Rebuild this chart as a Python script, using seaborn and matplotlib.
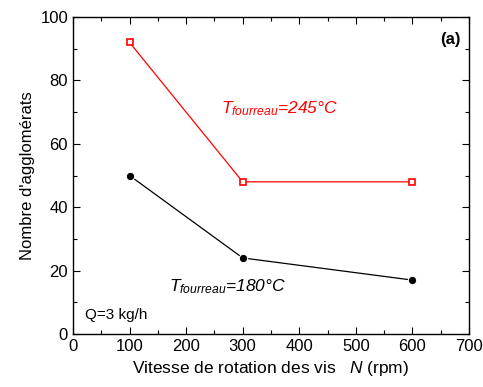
import pandas as pd
import numpy as np
import seaborn as sns
import matplotlib.pyplot as plt
from matplotlib.ticker import MultipleLocator

# data
vitesse = [100, 300, 600]
agglo_245 = [92, 48, 48]
agglo_180 = [50, 24, 17]

df = pd.DataFrame({
    'N': vitesse * 2,
    'agglo': agglo_245 + agglo_180,
    'T': ['245'] * 3 + ['180'] * 3,
})

sns.set_style('ticks')
plt.rcParams['font.family'] = ['Liberation Sans', 'DejaVu Sans']
plt.rcParams['mathtext.fontset'] = 'custom'
plt.rcParams['mathtext.it'] = 'Liberation Sans:italic'
plt.rcParams['mathtext.rm'] = 'Liberation Sans'
plt.rcParams['text.color'] = 'black'
plt.rcParams['axes.labelcolor'] = 'black'
plt.rcParams['xtick.color'] = 'black'
plt.rcParams['ytick.color'] = 'black'

fig = plt.figure(figsize=(4.83, 3.87), dpi=100)
ax = fig.add_axes([0.151, 0.137, 0.820, 0.819])

sns.lineplot(data=df[df['T'] == '245'], x='N', y='agglo', ax=ax, color='red',
             marker='s', markersize=5, markerfacecolor='white', markeredgecolor='red',
             markeredgewidth=1.2, linewidth=0.9)
sns.lineplot(data=df[df['T'] == '180'], x='N', y='agglo', ax=ax, color='black',
             marker='o', markersize=6, linewidth=0.9)

ax.set_xlim(0, 700)
ax.set_ylim(0, 100)
ax.xaxis.set_major_locator(MultipleLocator(100))
ax.xaxis.set_minor_locator(MultipleLocator(50))
ax.yaxis.set_major_locator(MultipleLocator(20))
ax.yaxis.set_minor_locator(MultipleLocator(10))
ax.tick_params(which='both', direction='in', top=True, right=True, labelsize=12, color='black')
ax.tick_params(which='major', length=5, width=0.8)
ax.tick_params(which='minor', length=3, width=0.8)
for sp in ax.spines.values():
    sp.set_linewidth(1.0)
    sp.set_color('black')

ax.set_xlabel(r'Vitesse de rotation des vis   $N$ (rpm)', fontsize=12.5)
ax.set_ylabel("Nombre d'agglomérats", fontsize=12)

ax.text(262, 71, r'$T_{fourreau}$=245°C', color='red', fontsize=12.5, style='italic',
        ha='left', va='center')
ax.text(170, 15, r'$T_{fourreau}$=180°C', color='black', fontsize=12.5, style='italic',
        ha='left', va='center')
ax.text(22, 6, 'Q=3 kg/h', fontsize=11, ha='left', va='center')
ax.text(685, 93, '(a)', fontsize=12, fontweight='bold', ha='right', va='center')

fig.savefig('out.png', dpi=100)
